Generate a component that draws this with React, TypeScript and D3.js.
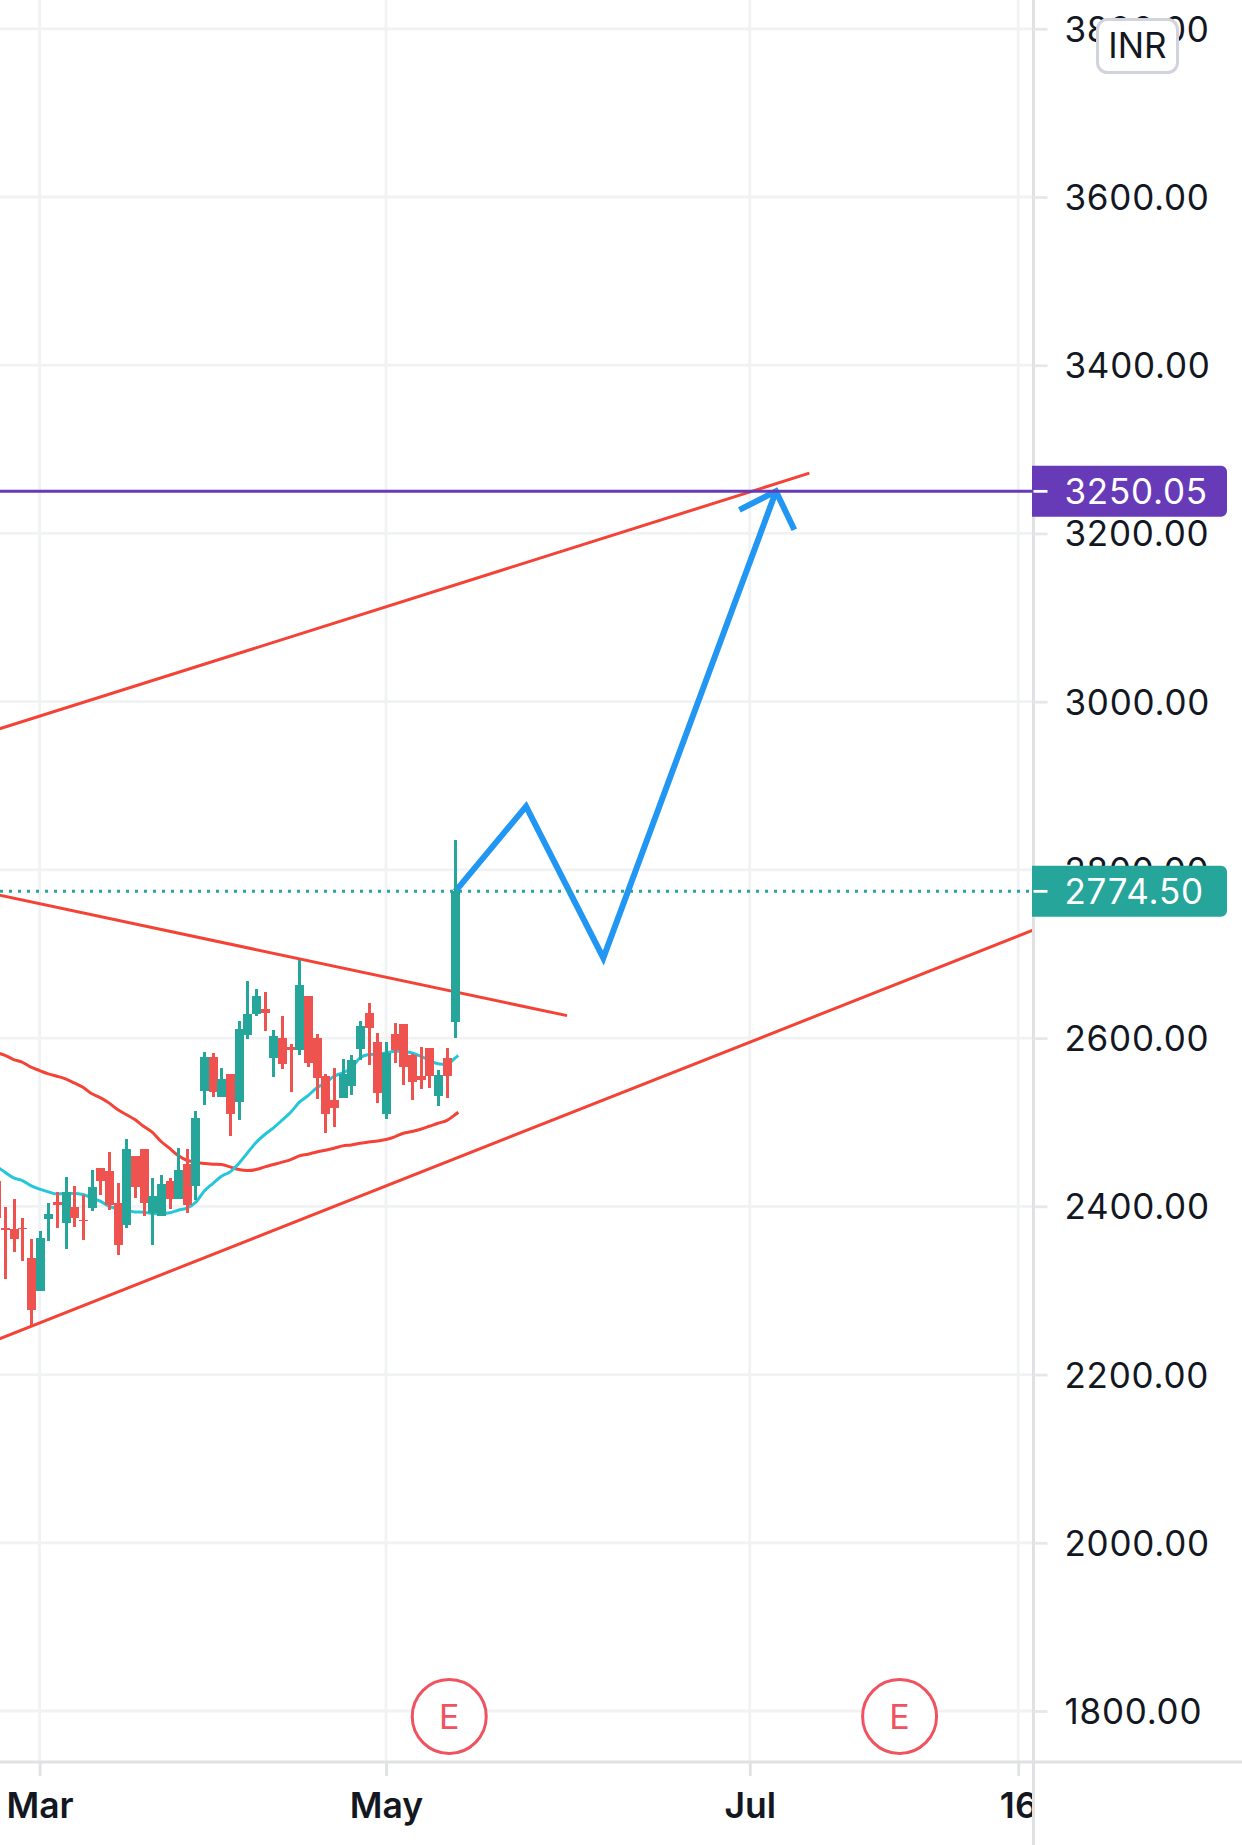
import React, { useEffect, useRef } from 'react';
import * as d3 from 'd3';

const priceTicks = [3800, 3600, 3400, 3200, 3000, 2800, 2600, 2400, 2200, 2000, 1800];
const monthTicks: [number, string][] = [[5, 'Mar'], [45, 'May'], [87, 'Jul'], [118, '16']];
const earningsBars = [52.3, 104.3];

const opens = [2429.9, 2374.4, 2373.6, 2374.8, 2338.0, 2299.2, 2385.5, 2405.7, 2379.6, 2399.8, 2383.2, 2398.6, 2446.1, 2442.6, 2403.4, 2378.4, 2460.4, 2468.7, 2391.5, 2389.1, 2430.7, 2409.3, 2450.9, 2423.6, 2537.6, 2578.0, 2530.5, 2557.8, 2524.6, 2604.2, 2629.2, 2635.1, 2576.9, 2600.6, 2589.9, 2586.4, 2650.6, 2600.6, 2555.5, 2527.0, 2529.3, 2543.6, 2587.6, 2630.4, 2595.9, 2509.2, 2605.4, 2617.3, 2580.4, 2555.5, 2588.8, 2531.7, 2576.9, 2619.7];
const highs = [2429.9, 2399.8, 2409.3, 2386.7, 2360.6, 2370.1, 2403.4, 2417.6, 2435.4, 2424.7, 2414.0, 2443.7, 2446.1, 2465.1, 2428.3, 2480.6, 2460.4, 2468.7, 2434.2, 2437.8, 2434.2, 2469.9, 2468.7, 2513.9, 2584.0, 2582.8, 2565.0, 2557.8, 2620.8, 2668.3, 2658.9, 2655.3, 2610.2, 2626.8, 2593.5, 2693.3, 2650.6, 2605.4, 2557.9, 2565.0, 2575.7, 2580.4, 2620.9, 2642.2, 2606.6, 2595.9, 2618.5, 2617.3, 2581.6, 2589.9, 2588.8, 2562.6, 2588.8, 2835.9];
const lows = [2386.3, 2314.2, 2346.3, 2335.6, 2259.2, 2299.2, 2358.2, 2374.8, 2348.7, 2376.0, 2359.4, 2395.0, 2414.0, 2396.2, 2341.6, 2374.8, 2410.5, 2389.1, 2354.6, 2389.1, 2397.4, 2409.3, 2391.5, 2408.1, 2521.0, 2530.5, 2530.5, 2484.2, 2503.2, 2599.4, 2626.8, 2609.0, 2554.3, 2563.8, 2536.5, 2580.4, 2566.2, 2528.2, 2486.6, 2494.9, 2529.3, 2532.9, 2574.5, 2568.6, 2523.4, 2504.4, 2570.9, 2544.8, 2526.9, 2540.0, 2541.2, 2519.8, 2529.3, 2600.6];
const closes = [2386.3, 2372.1, 2360.6, 2372.9, 2276.2, 2362.9, 2390.3, 2401.0, 2417.6, 2386.7, 2382.0, 2422.4, 2430.7, 2401.0, 2354.6, 2468.7, 2422.4, 2403.4, 2411.7, 2426.0, 2409.3, 2443.7, 2401.0, 2505.5, 2578.0, 2536.4, 2551.9, 2510.3, 2611.3, 2629.1, 2650.6, 2630.4, 2603.0, 2569.8, 2586.4, 2663.6, 2570.9, 2553.1, 2510.3, 2517.5, 2557.9, 2574.5, 2614.9, 2612.5, 2535.3, 2582.8, 2586.4, 2566.2, 2548.4, 2550.7, 2555.5, 2556.7, 2555.5, 2774.5];

// moving averages, one value per bar, last one is the short tail past the last candle
const slowMa = [2582.8, 2579.6, 2574.5, 2571.3, 2565.4, 2561.4, 2557.4, 2554.7, 2551.5, 2546.7, 2541.6, 2534.1, 2529.3, 2523.0, 2515.1, 2509.1, 2503.2, 2495.2, 2488.1, 2477.4, 2469.1, 2460.4, 2454.8, 2452.5, 2450.9, 2450.1, 2449.7, 2446.9, 2443.7, 2442.5, 2443.7, 2446.9, 2449.7, 2452.5, 2455.6, 2460.0, 2462.0, 2464.7, 2466.7, 2469.1, 2471.9, 2473.0, 2475.0, 2476.6, 2477.8, 2479.4, 2482.6, 2486.9, 2488.9, 2491.7, 2495.2, 2498.8, 2502.0, 2509.1, 2511.9];
const fastMa = [2447.7, 2440.6, 2433.9, 2430.7, 2424.7, 2420.4, 2417.2, 2414.8, 2415.2, 2415.2, 2414.0, 2410.1, 2406.1, 2400.2, 2397.0, 2395.4, 2393.4, 2393.0, 2391.5, 2391.1, 2392.3, 2395.4, 2397.8, 2404.5, 2418.0, 2427.1, 2435.8, 2441.0, 2450.9, 2463.6, 2475.9, 2485.4, 2493.3, 2502.4, 2511.9, 2523.8, 2531.7, 2540.8, 2546.8, 2554.7, 2558.7, 2564.6, 2576.5, 2580.4, 2581.2, 2582.4, 2584.4, 2584.4, 2582.4, 2578.5, 2573.7, 2569.4, 2568.6, 2576.5, 2579.3];
const maTailBar = 53.35;

// drawings as [bar, price]
const upperTrend: [number, number][] = [[0, 2966.5], [93.88, 3271.7]];
const middleTrend: [number, number][] = [[0, 2770.8], [65.9, 2626.7]];
const lowerTrend: [number, number][] = [[0, 2241.1], [119.7, 2728.3]];
const projection: [number, number][] = [[53, 2774.5], [61.17, 2875.5], [70.09, 2695.3], [90.03, 3250]];
const arrowHead: [number, number][] = [[85.8, 3228], [90.03, 3250], [92.15, 3204.3]];

const targetPrice = 3250.05;
const lastPrice = 2774.5;

const green = '#26a69a';
const red = '#ef5350';
const ink = '#131722';
const font = 'Inter, sans-serif';

const App: React.FC = () => {
    const svgRef = useRef<SVGSVGElement>(null);

    useEffect(() => {
        if (!svgRef.current) return;
        const svg = d3.select(svgRef.current);
        svg.selectAll('*').remove();

        const axisX = 1033.5;
        const axisY = 1762;

        const x = d3.scaleLinear().domain([0, 53]).range([-3.7, 455.3]);
        const y = d3.scaleLinear().domain([3600, 1800]).range([197, 1711]);

        svg.append('defs').append('clipPath').attr('id', 'plot')
            .append('rect').attr('x', 0).attr('y', 0).attr('width', axisX).attr('height', 1845);

        // grid
        svg.append('g').selectAll('line').data(priceTicks).join('line')
            .attr('x1', 0).attr('x2', axisX)
            .attr('y1', d => y(d)).attr('y2', d => y(d))
            .style('stroke', '#f1f2f3').style('stroke-width', 2.8);
        svg.append('g').selectAll('line').data(monthTicks).join('line')
            .attr('x1', d => x(d[0])).attr('x2', d => x(d[0]))
            .attr('y1', 0).attr('y2', axisY)
            .style('stroke', '#f1f2f3').style('stroke-width', 2.8);

        const plot = svg.append('g').attr('clip-path', 'url(#plot)');

        const maLine = d3.line<number>()
            .x((_, i) => x(i < 54 ? i : maTailBar))
            .y(d => y(d))
            .curve(d3.curveMonotoneX);
        plot.append('path').attr('d', maLine(slowMa))
            .style('fill', 'none').style('stroke', '#f44336').style('stroke-width', 3);
        plot.append('path').attr('d', maLine(fastMa))
            .style('fill', 'none').style('stroke', '#26c6da').style('stroke-width', 3);

        const drawing = d3.line<[number, number]>().x(d => x(d[0])).y(d => y(d[1]));

        [upperTrend, middleTrend, lowerTrend].forEach(t => {
            plot.append('path').attr('d', drawing(t))
                .style('fill', 'none').style('stroke', '#f44336').style('stroke-width', 3);
        });
        [projection, arrowHead].forEach(t => {
            plot.append('path').attr('d', drawing(t))
                .style('fill', 'none').style('stroke', '#2196f3').style('stroke-width', 6)
                .style('stroke-linejoin', 'miter');
        });

        // candles
        const candles = plot.append('g').selectAll('g').data(opens).join('g')
            .style('shape-rendering', 'crispEdges');
        candles.append('rect')
            .attr('x', (_, i) => Math.round(x(i)) - 1.5)
            .attr('width', 3)
            .attr('y', (_, i) => y(highs[i]))
            .attr('height', (_, i) => y(lows[i]) - y(highs[i]))
            .style('fill', (d, i) => (closes[i] >= d ? green : red));
        candles.append('rect')
            .attr('x', (_, i) => Math.round(x(i)) - 4.5)
            .attr('width', 9)
            .attr('y', (d, i) => y(Math.max(d, closes[i])))
            .attr('height', (d, i) => Math.max(1, Math.abs(y(d) - y(closes[i]))))
            .style('fill', (d, i) => (closes[i] >= d ? green : red));

        // price lines
        plot.append('line').attr('x1', 0).attr('x2', axisX)
            .attr('y1', y(targetPrice)).attr('y2', y(targetPrice))
            .style('stroke', '#673ab7').style('stroke-width', 3);
        plot.append('line').attr('x1', 0).attr('x2', axisX)
            .attr('y1', y(lastPrice)).attr('y2', y(lastPrice))
            .style('stroke', green).style('stroke-width', 3).style('stroke-dasharray', '3 6');

        // earnings markers
        const marks = svg.append('g').selectAll('g').data(earningsBars).join('g')
            .attr('transform', d => `translate(${x(d)},1716.5)`);
        marks.append('circle').attr('r', 37)
            .style('fill', '#fff').style('stroke', '#f0525f').style('stroke-width', 3);
        marks.append('text').text('E').attr('text-anchor', 'middle').attr('y', 12)
            .style('font-family', font).style('font-size', '34px').style('fill', '#f0525f');

        // time axis
        const xAxis = d3.axisBottom(x)
            .tickValues(monthTicks.map(d => d[0]))
            .tickFormat((_, i) => monthTicks[i][1])
            .tickSize(14).tickPadding(0);
        const gx = svg.append('g').attr('transform', `translate(0,${axisY})`)
            .attr('clip-path', 'url(#plotX)').call(xAxis);
        svg.select('defs').append('clipPath').attr('id', 'plotX')
            .append('rect').attr('x', 0).attr('y', 0).attr('width', axisX).attr('height', 90);
        gx.select('.domain').remove();
        gx.selectAll('line').style('stroke', '#e0e1e3').style('stroke-width', 2.8);
        gx.selectAll('text').attr('y', 56).attr('dy', 0)
            .style('font-family', font).style('font-size', '35.5px').style('font-weight', 600).style('fill', ink);

        svg.append('line').attr('x1', 0).attr('x2', 1242).attr('y1', axisY).attr('y2', axisY)
            .style('stroke', '#e0e1e3').style('stroke-width', 2.8);
        svg.append('line').attr('x1', axisX).attr('x2', axisX).attr('y1', 0).attr('y2', 1845)
            .style('stroke', '#e0e1e3').style('stroke-width', 3);

        // price axis
        const yAxis = d3.axisRight(y)
            .tickValues(priceTicks)
            .tickFormat(d => d3.format('.2f')(+d))
            .tickSize(14).tickPadding(17);
        const gy = svg.append('g').attr('transform', `translate(${axisX},0)`).call(yAxis);
        gy.select('.domain').remove();
        gy.selectAll('line').style('stroke', '#e6e7e9').style('stroke-width', 2.8);
        gy.selectAll('text').attr('dy', 0).attr('y', 12.5)
            .style('font-family', font).style('font-size', '35px').style('fill', ink)
            .style('letter-spacing', '0.75px');

        // price tags
        const tags: [number, string][] = [[targetPrice, '#673ab7'], [lastPrice, green]];
        tags.forEach(([price, colour]) => {
            const py = y(price);
            const tag = svg.append('g');
            tag.append('path')
                .attr('d', `M${axisX - 1.5},${py - 25.5}H1221a6,6 0 0 1 6,6V${py + 19.5}a6,6 0 0 1 -6,6H${axisX - 1.5}Z`)
                .style('fill', colour);
            tag.append('line').attr('x1', axisX).attr('x2', axisX + 14).attr('y1', py).attr('y2', py)
                .style('stroke', '#fff').style('stroke-width', 2.8);
            tag.append('text').text(d3.format('.2f')(price))
                .attr('x', axisX + 31).attr('y', py + 12.5)
                .style('font-family', font).style('font-size', '35px').style('fill', '#fff')
                .style('letter-spacing', '0.75px');
        });

        // currency badge
        svg.append('rect').attr('x', 1097.5).attr('y', 19.5).attr('width', 80).attr('height', 53).attr('rx', 10)
            .style('fill', '#fff').style('stroke', '#d1d4dc').style('stroke-width', 3);
        svg.append('text').text('INR').attr('x', 1137.5).attr('y', 58).attr('text-anchor', 'middle')
            .style('font-family', font).style('font-size', '35px').style('fill', ink);
    }, []);

    return (
        <svg
            ref={svgRef}
            width={1242}
            height={1845}
            style={{ position: 'absolute', left: 0, top: 0, display: 'block', background: '#fff' }}
        />
    );
};

export default App;
